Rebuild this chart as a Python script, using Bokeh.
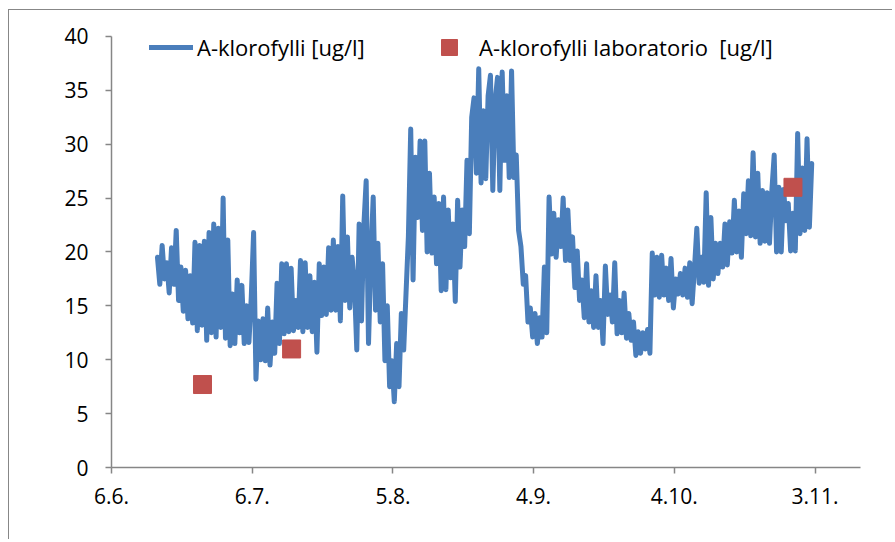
from bokeh.plotting import figure
from bokeh.models import Legend, LegendItem, FixedTicker, Range1d
from bokeh.embed import file_html
from bokeh.resources import INLINE

# x axis: days since 6.6.
tick_days = [0, 30, 60, 90, 120, 150]
tick_labels = ["6.6.", "6.7.", "5.8.", "4.9.", "4.10.", "3.11."]
y_ticks = [0, 5, 10, 15, 20, 25, 30, 35, 40]

# continuous sensor series, sampled every half day starting at day 9.8
t0 = 9.8
dt = 0.5
chl = [
    19.5, 17.0, 20.6, 17.5, 19.0, 16.2, 20.4, 17.0, 22.0, 15.5,
    18.6, 14.5, 18.3, 13.8, 17.8, 13.4, 20.9, 12.7, 20.6, 13.2,
    21.0, 11.8, 21.8, 12.5, 22.6, 12.1, 22.2, 13.0, 25.0, 12.0,
    21.1, 11.3, 16.1, 11.5, 17.4, 12.5, 16.9, 11.5, 15.0, 11.6,
    15.8, 21.8, 8.2, 13.6, 10.0, 13.8, 9.9, 14.8, 9.5, 13.5,
    10.6, 17.1, 11.5, 18.9, 12.4, 18.9, 12.6, 18.5, 12.7, 15.5,
    13.0, 19.2, 12.6, 19.0, 13.0, 17.8, 12.6, 17.2, 10.7, 18.9,
    14.1, 18.6, 14.2, 20.4, 14.6, 21.1, 14.6, 20.5, 13.6, 25.2,
    15.5, 21.4, 14.8, 19.5, 17.0, 10.9, 22.6, 13.6, 22.4, 26.6,
    11.5, 19.5, 25.1, 14.6, 20.8, 13.5, 18.9, 9.9, 15.0, 7.5,
    9.9, 6.1, 11.5, 7.5, 14.3, 10.9, 16.2, 21.4, 31.4, 17.4,
    28.8, 23.2, 30.3, 22.0, 30.3, 20.0, 27.3, 19.9, 25.1, 18.9,
    24.5, 16.4, 25.1, 16.5, 23.9, 17.6, 22.6, 15.4, 24.8, 18.6,
    23.9, 20.5, 28.5, 21.7, 32.5, 34.3, 27.3, 37.0, 26.4, 33.1,
    26.8, 34.5, 36.4, 25.7, 34.0, 36.2, 25.7, 36.7, 28.5, 34.5,
    26.9, 36.8, 26.9, 29.0, 22.0, 20.5, 17.0, 17.8, 13.5, 14.8,
    12.1, 14.3, 11.5, 13.9, 12.1, 18.6, 12.5, 25.1, 19.8, 23.6,
    19.5, 23.0, 20.5, 25.0, 19.2, 23.9, 19.2, 21.4, 16.7, 20.1,
    15.5, 17.4, 13.9, 18.9, 13.5, 16.4, 13.0, 17.8, 13.0, 15.5,
    11.5, 18.7, 14.2, 16.0, 13.5, 19.0, 12.4, 15.5, 12.5, 16.2,
    12.0, 14.3, 11.8, 13.5, 10.4, 12.6, 10.6, 12.5, 11.0, 12.8,
    10.6, 19.9, 16.0, 19.5, 15.8, 19.7, 16.0, 18.5, 15.5, 19.4,
    14.8, 17.5, 16.1, 18.0, 16.0, 18.5, 15.8, 19.0, 15.2, 18.5,
    22.2, 17.1, 19.5, 17.2, 25.5, 16.9, 23.2, 17.5, 20.8, 18.0,
    20.8, 18.6, 22.6, 18.8, 22.8, 19.9, 24.8, 20.0, 23.8, 19.5,
    25.4, 21.7, 26.6, 21.5, 29.2, 21.4, 27.3, 20.8, 25.7, 21.0,
    25.5, 20.8, 25.7, 29.0, 20.0, 26.0, 20.0, 25.8, 22.9, 24.5,
    20.1, 23.6, 20.1, 31.0, 21.7, 27.8, 22.0, 30.5, 22.3, 28.2,
]
days = [t0 + dt * i for i in range(len(chl))]

# laboratory samples
lab_days = [19.4, 38.4, 145.3]
lab_vals = [7.7, 11.0, 26.0]

FONT = "Open Sans"
FS = "21px"
LFS = "22px"
GRAY = "#868686"

# frame extends a little above 40 so the legend sits inside it;
# the y axis line itself stops at 40
p = figure(width=884, height=530,
           x_range=Range1d(0, 159.7), y_range=Range1d(0, 41.2),
           output_backend="svg", toolbar_location=None,
           min_border_left=102, min_border_right=33,
           min_border_top=13, min_border_bottom=73)
p.margin = (9, 0, 0, 8)
p.styles = {"border-left": "1px solid #878787", "border-top": "1px solid #878787"}
p.xgrid.visible = False
p.ygrid.visible = False
p.outline_line_color = None
p.background_fill_color = "white"
p.border_fill_color = "white"

line = p.line(days, chl, line_color="#4A7EBB", line_width=5,
              line_join="round", line_cap="round")
sq = p.scatter(lab_days, lab_vals, marker="square", size=18,
               fill_color="#C0504D", line_color="#C0504D")

for ax in (p.xaxis[0], p.yaxis[0]):
    ax.axis_line_color = GRAY
    ax.axis_line_width = 1.5
    ax.major_tick_line_color = GRAY
    ax.major_tick_line_width = 1.5
    ax.major_tick_in = 0
    ax.major_tick_out = 6
    ax.minor_tick_line_color = None
    ax.major_label_text_font = FONT
    ax.major_label_text_font_size = FS
    ax.major_label_text_color = "#000000"

p.yaxis[0].ticker = FixedTicker(ticks=y_ticks)
p.yaxis[0].bounds = (0, 40)
p.yaxis[0].major_label_standoff = 17
p.xaxis[0].ticker = FixedTicker(ticks=tick_days)
p.xaxis[0].major_label_overrides = {d: s for d, s in zip(tick_days, tick_labels)}
p.xaxis[0].major_label_standoff = 14

leg1 = Legend(items=[LegendItem(label="A-klorofylli [ug/l]", renderers=[line])],
              location=(38, 400), orientation="horizontal",
              glyph_width=44, glyph_height=40, label_standoff=4,
              padding=0, margin=0, border_line_color=None,
              background_fill_alpha=0, label_text_font=FONT,
              label_text_font_size=LFS, label_text_color="#000000")
leg2 = Legend(items=[LegendItem(label="A-klorofylli laboratorio  [ug/l]", renderers=[sq])],
              location=(314, 400), orientation="horizontal",
              glyph_width=48, glyph_height=40, label_standoff=6,
              padding=0, margin=0, border_line_color=None,
              background_fill_alpha=0, label_text_font=FONT,
              label_text_font_size=LFS, label_text_color="#000000")
p.add_layout(leg1)
p.add_layout(leg2)

open("out.html", "w").write(file_html(p, INLINE))
